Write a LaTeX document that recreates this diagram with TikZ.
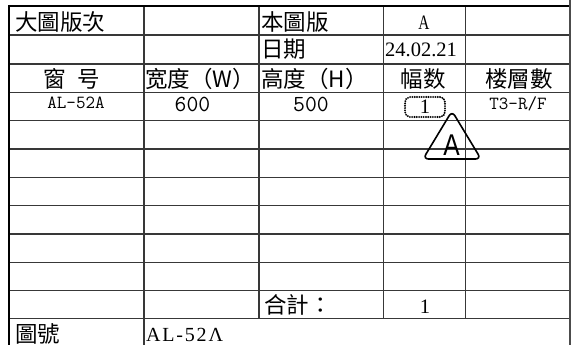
\documentclass[tikz,border=0pt]{standalone}
\usepackage{fontspec}
\newfontfamily\cjkf{Noto Sans CJK TC}
\newfontfamily\serf{Liberation Serif}
\newfontfamily\monf{Latin Modern Mono}
\newfontfamily\sanf{Liberation Sans}
\usetikzlibrary{shapes.geometric}
\tikzset{
  tableline/.style={line width=1.3pt, draw=black!78},
  cjktext/.style={inner sep=0pt, font=\cjkf\fontsize{22.5}{22.5}\selectfont},
  sertext/.style={inner sep=0pt, font=\serf\fontsize{20.5}{20.5}\selectfont},
  monsmall/.style={inner sep=0pt, font=\monf\fontsize{18.5}{18.5}\selectfont},
  monbig/.style={inner sep=0pt, font=\monf\fontsize{23}{23}\selectfont},
  cloudbox/.style={draw, line width=2.1pt, line cap=round, dash pattern=on 0pt off 2.3pt,
     rounded corners=5pt, minimum width=40pt, minimum height=20pt, inner sep=0pt},
  revtri/.style={draw, line width=1.6pt, rounded corners=5.5pt}
}
\begin{document}
\begin{tikzpicture}[x=1pt,y=-1pt]
\useasboundingbox (0,0) rectangle (576,345);
% horizontal interior lines
\foreach \yy in {35,64,92.5,120.7,149,177.3,205.6,234,262.3,290.6,318.7}
  \draw[tableline] (9,\yy) -- (570,\yy);
% vertical interior lines
\foreach \xx in {259,383.5,465.5}
  \draw[tableline] (\xx,6) -- (\xx,318.7);
\draw[tableline] (144,6) -- (144,345);
% borders
\draw[line width=2pt, draw=black] (8,6) -- (571,6);
\draw[line width=2.4pt, draw=black] (9,5) -- (9,345);
\draw[line width=2pt, draw=black!70] (570,0) -- (570,345);

% row 1
\node[cjktext, anchor=west] (t11) at (15,22.5) {大圖版次};
\node[cjktext, anchor=west] (t13) at (261,22.5) {本圖版};
\node[sertext] (t14) at (424,23) {\scalebox{0.75}[1]{A}};
% row 2
\node[cjktext, anchor=west] (t23) at (261,49.5) {日期};
\node[sertext] (t24) at (421,49.5) {24.02.21};
% row 3
\node[cjktext] (t31) at (72,79) {窗\hspace{0.5em}号};
\node[cjktext, anchor=west] (t32) at (145,79) {宽度（W）};
\node[cjktext, anchor=west] (t33) at (261,79) {高度（H）};
\node[cjktext] (t34) at (423,79) {幅数};
\node[cjktext] (t35) at (519,79) {楼層數};
% row 4
\node[monsmall] (t41) at (76,103) {AL-52A};
\node[monbig] (t42) at (192.5,104) {600};
\node[monbig] (t43) at (311,104) {500};
\node[cloudbox] (cloud) at (425,107) {};
\node[sertext] (t44) at (425,107) {1};
\node[monsmall] (t45) at (518,104) {T3-R/F};
% revision triangle
\coordinate (triTop) at (452,111);
\coordinate (triRight) at (481,159);
\coordinate (triLeft) at (423,159);
\draw[revtri] (triTop) -- (triRight) -- (triLeft) -- cycle;
\node[inner sep=0pt, font=\sanf\fontsize{30}{30}\selectfont] (triA) at (451.5,145) {\scalebox{0.82}[1]{A}};
% total row
\node[cjktext, anchor=west] (tot) at (264,305) {合計：};
\node[sertext] (totn) at (425,307) {1};
% drawing number row
\node[cjktext, anchor=west] (dn) at (15,334) {圖號};
\node[inner sep=0pt, anchor=west, font=\serf\fontsize{20}{20}\selectfont\addfontfeature{LetterSpace=9}] (dnv) at (146,334.5) {AL-52Λ};
\end{tikzpicture}
\end{document}
